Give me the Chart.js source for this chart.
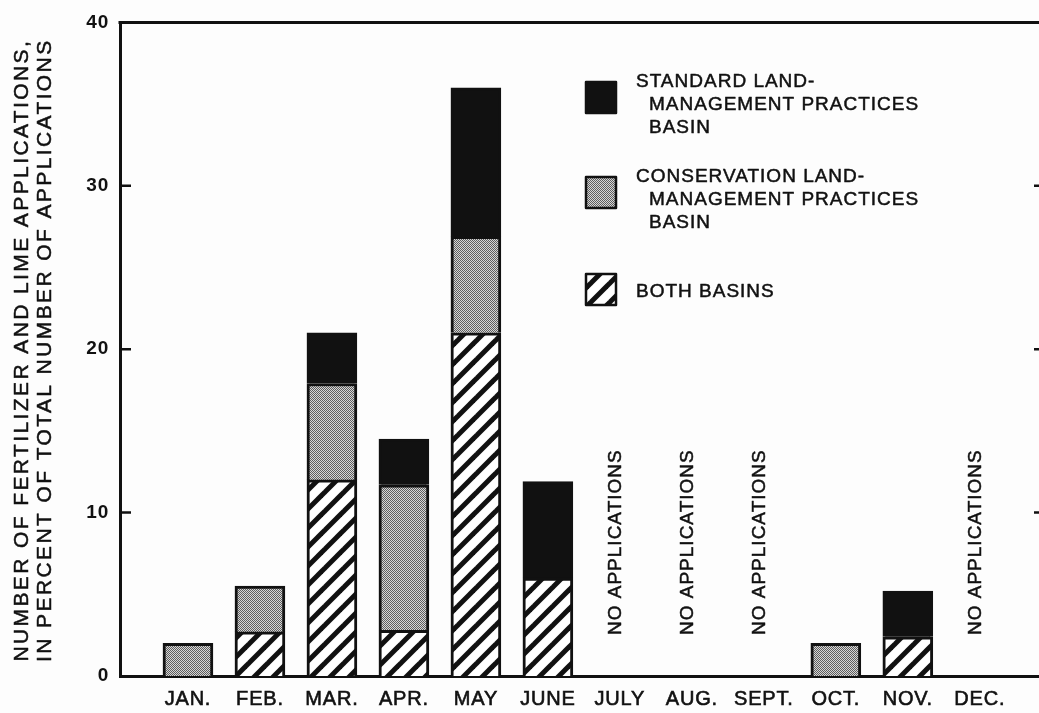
<!DOCTYPE html>
<html>
<head>
<meta charset="utf-8">
<script src="https://cdn.jsdelivr.net/npm/chart.js@4.4.1/dist/chart.umd.min.js"></script>
<style>
  html, body { margin: 0; padding: 0; background: #fdfdfd; overflow: hidden; }
  #wrap { width: 1042px; height: 713px; }
</style>
</head>
<body>
<div id="wrap"><canvas id="chart" width="1042" height="713"></canvas></div>
<script>
// months along the bottom
const months = ['JAN.', 'FEB.', 'MAR.', 'APR.', 'MAY', 'JUNE', 'JULY', 'AUG.', 'SEPT.', 'OCT.', 'NOV.', 'DEC.'];
// percent of total number of applications (stacked, bottom to top)
const bothBasins   = [0, 2.7, 12.0, 2.8, 21.0, 6.0, 0, 0, 0, 0, 2.4, 0];
const conservation = [2.0, 2.8, 5.9, 8.9, 5.9, 0, 0, 0, 0, 2.0, 0, 0];
const standard     = [0, 0, 3.1, 2.8, 9.1, 5.9, 0, 0, 0, 0, 2.8, 0];
// months with the "no applications" note
const noApplications = ['JULY', 'AUG.', 'SEPT.', 'DEC.'];
const yTicks = [0, 10, 20, 30, 40];
const yTitle = ['NUMBER OF FERTILIZER AND LIME APPLICATIONS,', 'IN PERCENT OF TOTAL NUMBER OF APPLICATIONS'];
const bothName = ['BOTH BASINS'];
const conservationName = ['CONSERVATION LAND-', 'MANAGEMENT PRACTICES', 'BASIN'];
const standardName = ['STANDARD LAND-', 'MANAGEMENT PRACTICES', 'BASIN'];

const family = '"Liberation Sans", Arial, Helvetica, sans-serif';
const ink = '#111';

// fine dot screen for the conservation basin
function stipple() {
    const c = document.createElement('canvas');
    c.width = 2; c.height = 2;
    const g = c.getContext('2d');
    g.fillStyle = '#d6d6d6';
    g.fillRect(0, 0, 2, 2);
    g.fillStyle = '#5e5e5e';
    g.fillRect(0, 0, 1, 1);
    g.fillRect(1, 1, 1, 1);
    return g.createPattern(c, 'repeat');
}

// thick "/" hatching for both basins
function hatch() {
    const t = 19;
    const c = document.createElement('canvas');
    c.width = t; c.height = t;
    const g = c.getContext('2d');
    g.fillStyle = '#fff';
    g.fillRect(0, 0, t, t);
    g.strokeStyle = ink;
    g.lineWidth = 5;
    [0, t, 2 * t].forEach(k => {
        g.beginPath();
        g.moveTo(k - 2 * t, 2 * t);
        g.lineTo(k + 2 * t, -2 * t);
        g.stroke();
    });
    return g.createPattern(c, 'repeat');
}

function series(name, values, fill) {
    return {
        label: name.join(' '),
        lines: name,
        data: values.map((v, i) => ({ x: i + 1, y: v })),
        backgroundColor: fill,
        borderColor: ink,
        borderWidth: 3,
        borderSkipped: 'start',
        barThickness: 50
    };
}

// text a bit heavier, like the printed original
function heavyText(ctx, text, x, y) {
    ctx.fillText(text, x, y);
    ctx.strokeText(text, x, y);
}

// frame, inward ticks, notes, axis title and the legend
const paper = {
    id: 'paper',
    beforeDraw(chart) {
        const ctx = chart.ctx;
        ctx.save();
        ctx.fillStyle = '#fdfdfd';
        ctx.fillRect(0, 0, chart.width, chart.height);
        ctx.restore();
        ctx.letterSpacing = '0.8px';
    },
    afterDraw(chart) {
        const { ctx, chartArea: a, scales: { x, y } } = chart;
        ctx.save();
        ctx.strokeStyle = ink;
        ctx.lineWidth = 3;
        ctx.beginPath();
        ctx.moveTo(a.left - 1.5, a.top);
        ctx.lineTo(a.right, a.top);
        ctx.lineTo(a.right, a.bottom);
        ctx.stroke();

        ctx.lineWidth = 2.5;
        yTicks.slice(1, -1).forEach(v => {
            const py = y.getPixelForValue(v);
            ctx.beginPath();
            ctx.moveTo(a.left, py);
            ctx.lineTo(a.left + 11, py);
            ctx.moveTo(a.right - 7, py);
            ctx.lineTo(a.right, py);
            ctx.stroke();
        });

        ctx.fillStyle = ink;
        ctx.textBaseline = 'middle';
        ctx.lineWidth = 0.5;
        ctx.lineJoin = 'round';

        // no applications notes
        ctx.font = '19px ' + family;
        ctx.letterSpacing = '1px';
        ctx.textAlign = 'left';
        noApplications.forEach(m => {
            const px = x.getPixelForValue(months.indexOf(m) + 1) - 4;
            ctx.save();
            ctx.translate(px, 635);
            ctx.rotate(-Math.PI / 2);
            heavyText(ctx, 'NO APPLICATIONS', 0, 0);
            ctx.restore();
        });

        // y axis title
        ctx.font = '21px ' + family;
        ctx.letterSpacing = '2.4px';
        ctx.textAlign = 'center';
        yTitle.forEach((line, i) => {
            ctx.save();
            ctx.translate(22 + i * 23, (a.top + a.bottom) / 2 + 1);
            ctx.rotate(-Math.PI / 2);
            heavyText(ctx, line, 0, 0);
            ctx.restore();
        });

        // legend, top entry is the top of the stack
        const rows = [82, 177, 292];
        const boxes = [82, 177, 274];
        ctx.font = '19px ' + family;
        ctx.letterSpacing = '1px';
        ctx.textAlign = 'left';
        chart.data.datasets.slice().reverse().forEach((ds, i) => {
            ctx.fillStyle = ds.backgroundColor;
            ctx.fillRect(586, boxes[i], 30, 31);
            ctx.lineWidth = 2.5;
            ctx.strokeRect(586, boxes[i], 30, 31);
            ctx.fillStyle = ink;
            ctx.lineWidth = 0.5;
            ds.lines.forEach((t, k) => {
                heavyText(ctx, t, k === 0 ? 636 : 649, rows[i] + k * 23);
            });
        });
        ctx.restore();
        ctx.letterSpacing = '0.8px';
    }
};

new Chart(document.getElementById('chart'), {
    type: 'bar',
    data: {
        datasets: [
            series(bothName, bothBasins, hatch()),
            series(conservationName, conservation, stipple()),
            series(standardName, standard, ink)
        ]
    },
    options: {
        responsive: false,
        animation: false,
        layout: { padding: { top: 20, right: 1, left: 0, bottom: 0 } },
        plugins: {
            legend: { display: false },
            tooltip: { enabled: false }
        },
        scales: {
            x: {
                type: 'linear',
                stacked: true,
                offset: false,
                min: 0.056,
                max: 12.85,
                grid: { display: false, drawTicks: false },
                border: { display: true, width: 3, color: ink },
                afterBuildTicks: s => { s.ticks = months.map((m, i) => ({ value: i + 1 })); },
                afterFit: s => { s.height = 37; },
                ticks: {
                    autoSkip: false,
                    maxRotation: 0,
                    padding: 11,
                    color: ink,
                    textStrokeColor: ink,
                    textStrokeWidth: 0.6,
                    font: { family: family, size: 20 },
                    callback: v => months[v - 1]
                }
            },
            y: {
                stacked: true,
                min: 0,
                max: 40,
                grid: { display: false, drawTicks: false },
                border: { display: true, width: 3, color: ink },
                afterBuildTicks: s => { s.ticks = yTicks.map(v => ({ value: v })); },
                afterFit: s => { s.width = 120; },
                ticks: {
                    padding: 11,
                    color: ink,
                    font: { family: family, size: 19, weight: 'bold' }
                }
            }
        }
    },
    plugins: [paper]
});
</script>
</body>
</html>
